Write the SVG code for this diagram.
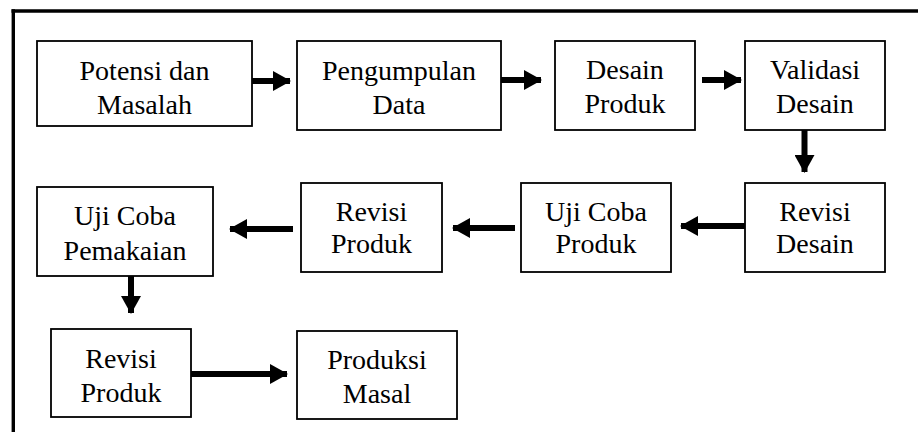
<svg xmlns="http://www.w3.org/2000/svg" width="918" height="432" viewBox="0 0 918 432">
<defs>
<marker id="ah" viewBox="0 0 18 20" refX="17" refY="10" markerWidth="18" markerHeight="20" markerUnits="userSpaceOnUse" orient="auto">
<path d="M0,0 L18,10 L0,20 Z" fill="#000"/>
</marker>
</defs>
<rect width="918" height="432" fill="#fff"/>
<g id="frame" stroke="#000" stroke-width="3.4">
<line x1="11.5" y1="11" x2="918" y2="11"/>
<line x1="13.3" y1="9.3" x2="13.3" y2="432"/>
</g>
<g id="n1"><rect fill="#fff" stroke="#000" stroke-width="1.8" x="37" y="41" width="215" height="85"/><text text-anchor="middle" style="font-family:'Liberation Serif';font-size:28px" x="144.5" y="80">Potensi dan</text><text text-anchor="middle" style="font-family:'Liberation Serif';font-size:28px" x="144.5" y="114">Masalah</text></g>
<g id="n2"><rect fill="#fff" stroke="#000" stroke-width="1.8" x="297" y="41" width="204" height="89"/><text text-anchor="middle" style="font-family:'Liberation Serif';font-size:28px" x="399" y="80">Pengumpulan</text><text text-anchor="middle" style="font-family:'Liberation Serif';font-size:28px" x="399" y="114">Data</text></g>
<g id="n3"><rect fill="#fff" stroke="#000" stroke-width="1.8" x="555" y="41" width="140" height="89"/><text text-anchor="middle" style="font-family:'Liberation Serif';font-size:28px" x="625" y="79">Desain</text><text text-anchor="middle" style="font-family:'Liberation Serif';font-size:28px" x="625" y="113">Produk</text></g>
<g id="n4"><rect fill="#fff" stroke="#000" stroke-width="1.8" x="745" y="41" width="140" height="89"/><text text-anchor="middle" style="font-family:'Liberation Serif';font-size:28px" x="815" y="79">Validasi</text><text text-anchor="middle" style="font-family:'Liberation Serif';font-size:28px" x="815" y="113">Desain</text></g>
<g id="n5"><rect fill="#fff" stroke="#000" stroke-width="1.8" x="745" y="183" width="140" height="89"/><text text-anchor="middle" style="font-family:'Liberation Serif';font-size:28px" x="815" y="221">Revisi</text><text text-anchor="middle" style="font-family:'Liberation Serif';font-size:28px" x="815" y="253">Desain</text></g>
<g id="n6"><rect fill="#fff" stroke="#000" stroke-width="1.8" x="521" y="183" width="150" height="89"/><text text-anchor="middle" style="font-family:'Liberation Serif';font-size:28px" x="596" y="221">Uji Coba</text><text text-anchor="middle" style="font-family:'Liberation Serif';font-size:28px" x="596" y="253">Produk</text></g>
<g id="n7"><rect fill="#fff" stroke="#000" stroke-width="1.8" x="301" y="183" width="141" height="89"/><text text-anchor="middle" style="font-family:'Liberation Serif';font-size:28px" x="371.5" y="221">Revisi</text><text text-anchor="middle" style="font-family:'Liberation Serif';font-size:28px" x="371.5" y="253">Produk</text></g>
<g id="n8"><rect fill="#fff" stroke="#000" stroke-width="1.8" x="37" y="187" width="176" height="89"/><text text-anchor="middle" style="font-family:'Liberation Serif';font-size:28px" x="125" y="225">Uji Coba</text><text text-anchor="middle" style="font-family:'Liberation Serif';font-size:28px" x="125" y="260">Pemakaian</text></g>
<g id="n9"><rect fill="#fff" stroke="#000" stroke-width="1.8" x="51" y="329" width="140" height="88"/><text text-anchor="middle" style="font-family:'Liberation Serif';font-size:28px" x="121" y="368">Revisi</text><text text-anchor="middle" style="font-family:'Liberation Serif';font-size:28px" x="121" y="402">Produk</text></g>
<g id="n10"><rect fill="#fff" stroke="#000" stroke-width="1.8" x="297" y="331" width="160" height="88"/><text text-anchor="middle" style="font-family:'Liberation Serif';font-size:28px" x="377" y="369">Produksi</text><text text-anchor="middle" style="font-family:'Liberation Serif';font-size:28px" x="377" y="403">Masal</text></g>
<g id="connectors" stroke="#000" stroke-width="6" fill="none">
<path d="M252,81 H290" marker-end="url(#ah)"/>
<path d="M501,80 H541" marker-end="url(#ah)"/>
<path d="M702,80 H741" marker-end="url(#ah)"/>
<path d="M804.5,130 V172" marker-end="url(#ah)"/>
<path d="M745,226 H681" marker-end="url(#ah)"/>
<path d="M515,228 H453" marker-end="url(#ah)"/>
<path d="M293,229 H230" marker-end="url(#ah)"/>
<path d="M131,276 V313" marker-end="url(#ah)"/>
<path d="M191,374 H287" marker-end="url(#ah)"/>
</g>
</svg>
